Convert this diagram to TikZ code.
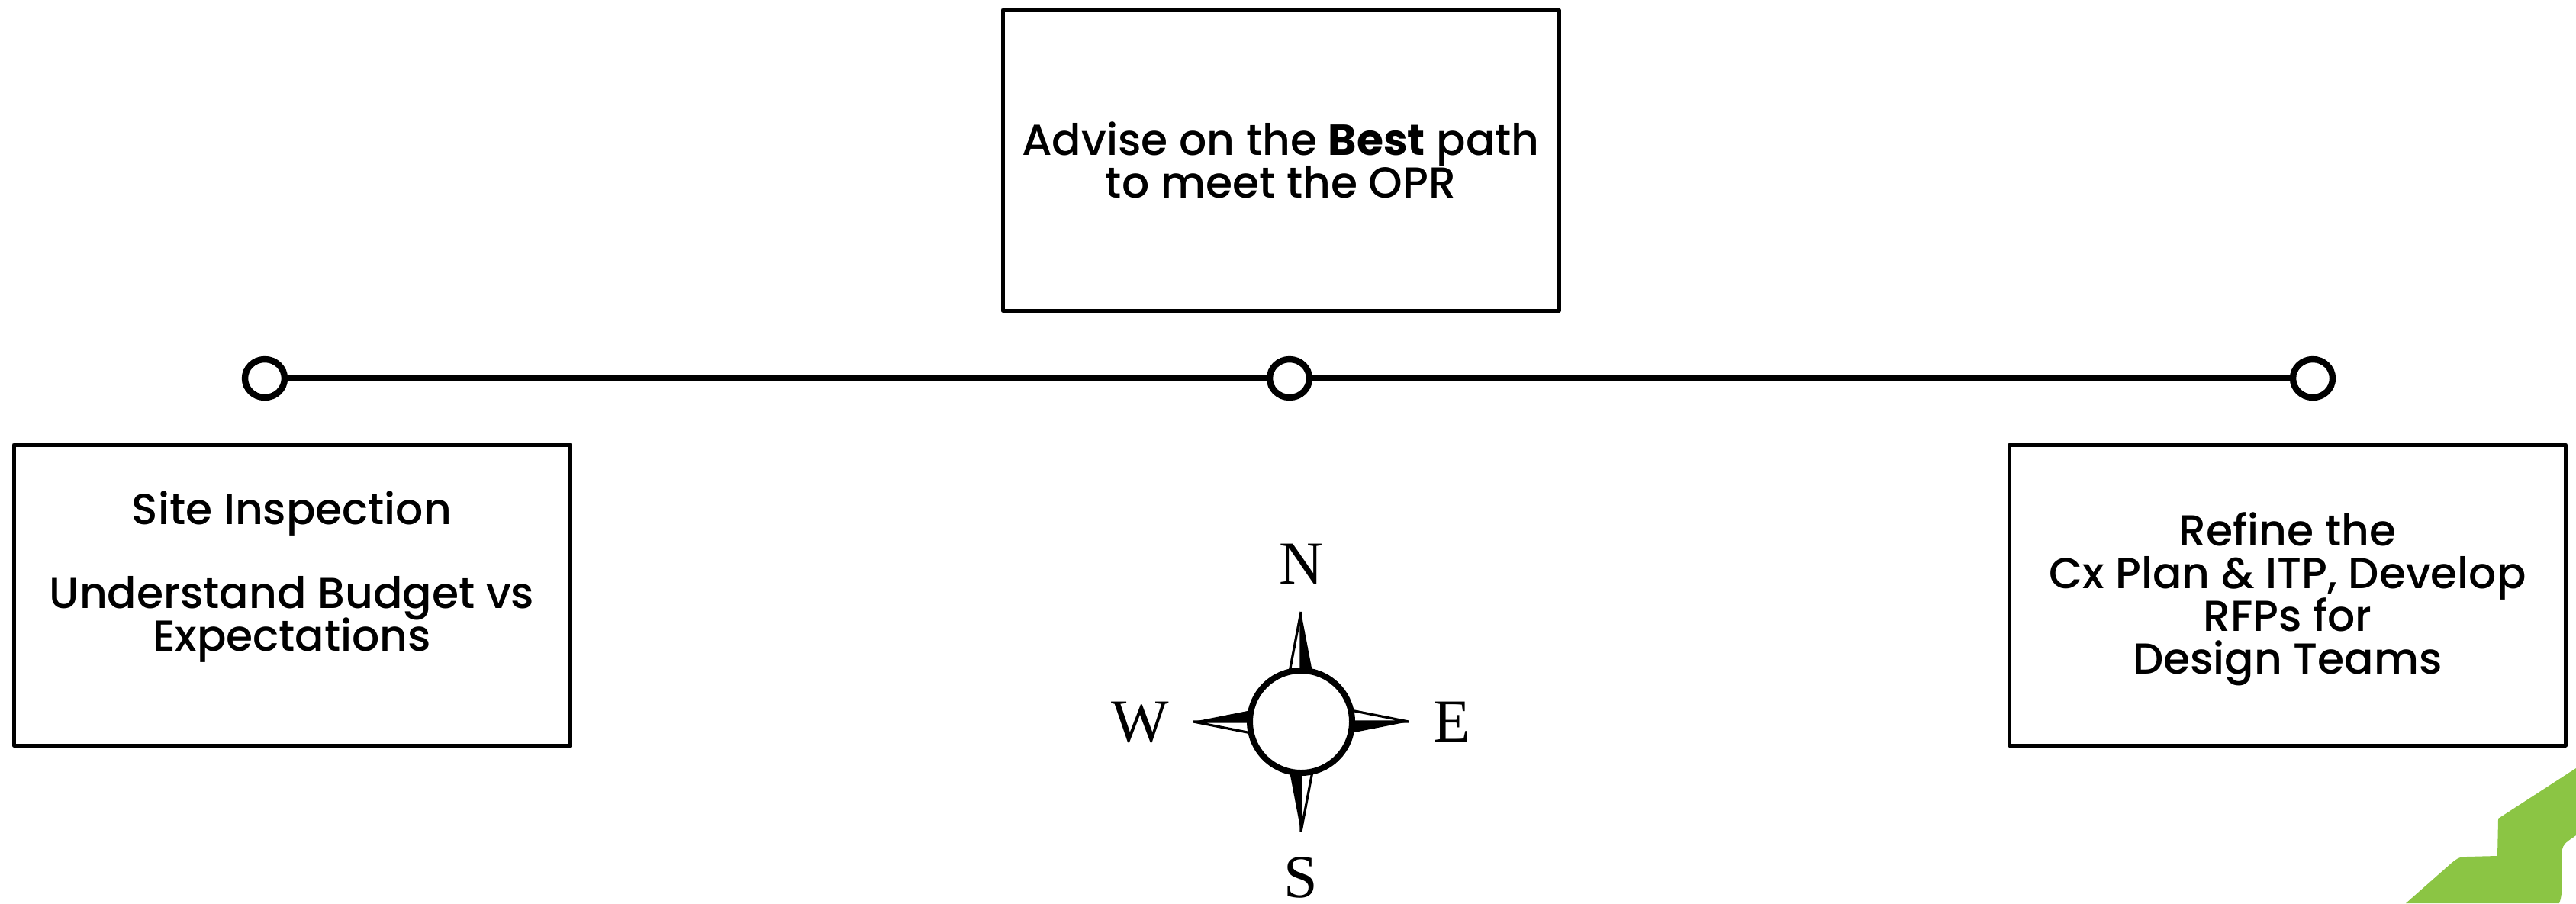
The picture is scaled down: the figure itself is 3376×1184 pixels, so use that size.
\documentclass[tikz,border=0pt]{standalone}
\usepackage{fontspec}
\setmainfont{Poppins}[UprightFont=* Medium,BoldFont=* Bold]
\newfontfamily\compassfont{Liberation Serif}
\definecolor{leafgreen}{HTML}{8BC544}
\usetikzlibrary{shapes.geometric}
\setlength{\lineskiplimit}{-20pt}
\tikzset{
  x=0.5pt,y=-0.5pt,
  infobox/.style={draw=black,line width=2.5pt,fill=white,minimum width=364.5pt,minimum height=197pt,align=center,inner sep=0pt,
    font=\fontsize{28.4pt}{28pt}\selectfont,line join=round},
  stopdot/.style={ellipse,draw=black,line width=4.2pt,fill=white,minimum width=26pt,minimum height=25pt,inner sep=0pt},
  timeline/.style={draw=black,line width=3.8pt},
  compassletter/.style={font=\compassfont\fontsize{40pt}{40pt}\selectfont,anchor=base,inner sep=0pt},
  hub/.style={circle,draw=black,line width=4pt,fill=white,minimum size=67pt,inner sep=0pt}
}
\begin{document}
\begin{tikzpicture}
\useasboundingbox (0,0) rectangle (3376,1184);
% green corner
\fill[leafgreen] (3376,1007) -- (3274,1073) -- (3273,1122) -- (3232,1123)
  .. controls (3222,1123) and (3218,1127) .. (3212,1132) -- (3153,1184)
  -- (3354,1184) .. controls (3357,1176) and (3357,1172) .. (3357,1165)
  -- (3357,1120) .. controls (3357,1112) and (3360,1106) .. (3366,1102) -- (3376,1095) -- cycle;
% boxes
\node[infobox] (top) at (1678.5,210) {Advise on the \textbf{Best} path\\to meet the OPR};
\node[infobox] (left) at (382.5,780) {Site Inspection\\[27pt]Understand Budget vs\\Expectations\\[3.7pt]~};
\node[infobox] (right) at (2998,780) {\rule{0pt}{27pt}Refine the\\Cx Plan \& ITP, Develop\\RFPs for\\Design Teams};
% timeline
\node[stopdot] (d1) at (347,496) {};
\node[stopdot] (d2) at (1690,496) {};
\node[stopdot] (d3) at (3031,496) {};
\draw[timeline] (d1) -- (d2);
\draw[timeline] (d2) -- (d3);
% compass
\coordinate (cc) at (1705,946);
\foreach \a/\r in {0/144,90/141,180/144,270/141}{
  \begin{scope}[shift={(cc)},rotate=\a]
    \draw[line width=1.6pt,fill=white,line join=miter] (0,-\r) -- (-16,-60) -- (0,-60) -- cycle;
    \fill[black] (0,-\r) -- (16,-60) -- (0,-60) -- cycle;
  \end{scope}
}
\node[hub] (hub) at (cc) {};
\node[compassletter] (n) at (1705,765) {N};
\node[compassletter] (s) at (1705,1176) {S};
\node[compassletter] (e) at (1903,972) {E};
\node[compassletter] (w) at (1494,972) {W};
\end{tikzpicture}
\end{document}
